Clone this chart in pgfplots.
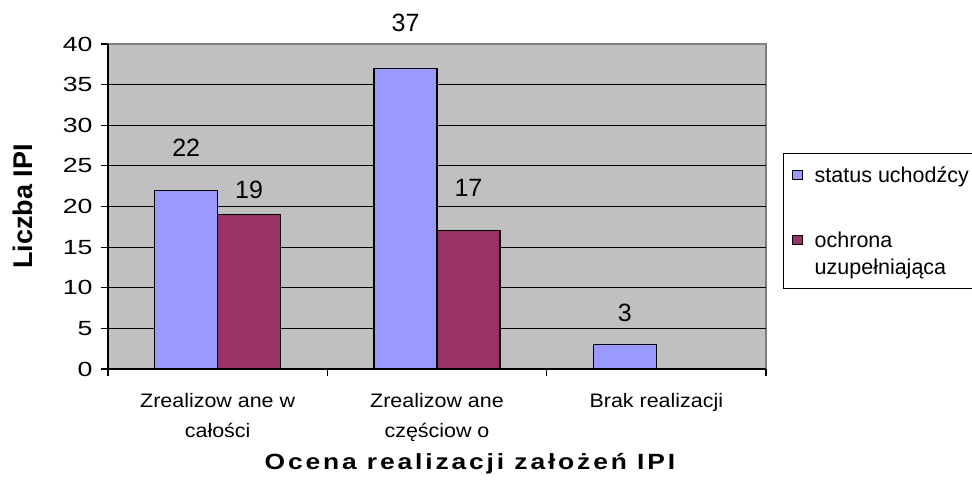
\documentclass[border=0pt]{standalone}
\usepackage{fontspec}
\setmainfont{Liberation Sans}
\newfontfamily\tickfont{Liberation Sans}[FakeStretch=1.3]
\newfontfamily\catfont{Liberation Sans}[FakeStretch=1.1]
\newfontfamily\xlabfont{Liberation Sans}[FakeStretch=1.2,LetterSpace=13]
\usepackage{pgfplots}
\pgfplotsset{compat=1.18}
\definecolor{barblue}{HTML}{9999FF}
\definecolor{barplum}{HTML}{993366}
\definecolor{plotgray}{HTML}{C0C0C0}
\definecolor{framegray}{HTML}{808080}
\pgfplotsset{
  sqlegend/.style 2 args={legend image code/.code={%
    \draw[fill=#1,draw=black,line width=1pt] (0pt,#2-4.5pt) rectangle (10pt,#2+4.5pt);}},
  every non boxed x axis/.append style={x axis line style={-}, xtick align=outside},
  every non boxed y axis/.append style={y axis line style={-}, ytick align=outside},
}
\begin{document}
\begin{tikzpicture}[x=1pt,y=1pt]
\useasboundingbox (0,0) rectangle (972,485);
\begin{axis}[
  at={(108pt,116pt)}, anchor=south west,
  width=658pt, height=325pt, scale only axis,
  xmin=-0.5, xmax=2.5, ymin=0, ymax=40,
  clip=false,
  axis x line*=bottom, axis y line*=left,
  axis line style={black, line width=1.2pt},
  axis background/.style={fill=plotgray, draw=framegray, line width=1.2pt},
  tick align=outside, major tick length=7pt,
  tick style={black, line width=1.2pt},
  ytick={0,5,...,40},
  extra y ticks={5,10,...,35}, extra y tick labels={},
  extra y tick style={grid=major, major tick length=0pt},
  grid style={black, line width=1.2pt},
  yticklabel style={font=\tickfont\fontsize{20.5}{24}\selectfont,
    /pgf/number format/assume math mode=true, xshift=-5pt},
  xtick={0,1,2},
  xticklabels={{Zrealizow ane w\\[3pt]całości},{Zrealizow ane\\[3pt]częściow o},{Brak realizacji}},
  xticklabel style={font=\catfont\fontsize{19.5}{27}\selectfont, align=center, anchor=north, yshift=-14pt},
  xtick style={draw=none},
  extra x ticks={-0.5,0.5,1.5,2.5}, extra x tick labels={},
  extra x tick style={xtick style={draw=black, line width=1.2pt}},
  xlabel={Ocena realizacji założeń IPI},
  xlabel style={at={(axis description cs:0.55,-0.29)}, anchor=center,
    font=\xlabfont\bfseries\fontsize{22}{26}\selectfont},
  ylabel={Liczba IPI},
  ylabel style={at={(axis description cs:-0.129,0.5)}, anchor=center,
    font=\bfseries\fontsize{27}{30}\selectfont},
  legend style={at={(axis description cs:1.026,0.665)}, anchor=north west,
    draw=black, line width=1.2pt, fill=white,
    font=\fontsize{21.5}{27}\selectfont,
    cells={anchor=west, align=left, inner sep=0pt},
    row sep=44pt, inner xsep=8pt, inner ysep=11pt,
    /tikz/every odd column/.append style={column sep=10pt}},
]
\addplot[ybar, bar width=0.287, bar shift=-0.1435, fill=barblue, draw=black,
  line width=1.2pt, sqlegend={barblue}{0pt}] coordinates {(0,22) (1,37) (2,3)};
\addlegendentry{status uchodźcy}
\addplot[ybar, bar width=0.287, bar shift=0.1435, fill=barplum, draw=black,
  line width=1.2pt, sqlegend={barplum}{13.5pt}] coordinates {(0,19) (1,17)};
\addlegendentry{ochrona\\uzupełniająca}
% data labels
\node[font=\fontsize{25}{30}\selectfont] at (axis cs:-0.1435,27.2) {22};
\node[font=\fontsize{25}{30}\selectfont] at (axis cs:0.1435,22.0) {19};
\node[font=\fontsize{25}{30}\selectfont] at (axis cs:0.8565,42.6) {37};
\node[font=\fontsize{25}{30}\selectfont] at (axis cs:1.1435,22.3) {17};
\node[font=\fontsize{25}{30}\selectfont] at (axis cs:1.8565,6.9) {3};
\end{axis}
\end{tikzpicture}
\end{document}
